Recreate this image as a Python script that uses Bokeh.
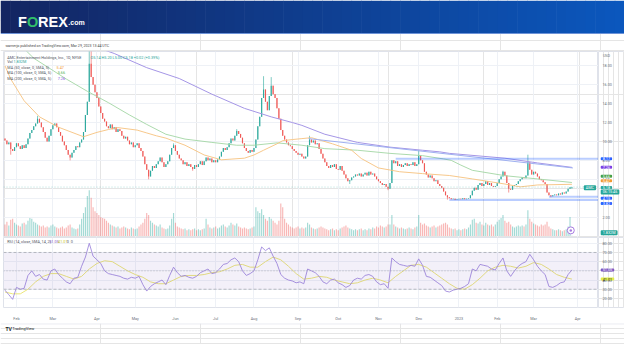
from bokeh.plotting import figure
from bokeh.layouts import column, row
from bokeh.models import (Range1d, FixedTicker, Label, ColumnDataSource, Span,
                          BoxAnnotation, PrintfTickFormatter, Grid)
from bokeh.core.properties import value
from bokeh.embed import file_html
from bokeh.resources import INLINE

# ---------------- data ----------------
# daily closes, Jan 24 2022 (bar 0) .. Mar 29 2023 (bar 296)
closes = [
    10.1, 9.7, 9.9, 9.2, 9.0, 9.4, 9.8, 9.5, 9.2, 9.6,
    9.3, 9.7, 10.3, 10.9, 11.2, 11.6, 11.9, 12.4, 12.0, 11.5,
    11.0, 10.4, 10.0, 10.6, 11.3, 11.7, 11.9, 11.5, 11.0, 10.6,
    10.0, 9.6, 9.1, 8.6, 8.3, 8.8, 9.1, 9.5, 9.4, 9.9,
    10.2, 11.0, 12.8, 14.2, 18.2, 16.8, 16.0, 15.2, 14.6, 13.7,
    13.0, 12.4, 12.1, 11.6, 11.4, 11.8, 11.3, 11.5, 11.0, 11.3,
    11.1, 10.6, 10.3, 10.5, 10.1, 9.7, 9.9, 9.4, 9.6, 9.8,
    9.3, 9.0, 8.4, 7.6, 7.0, 6.3, 6.9, 7.4, 7.2, 7.6,
    7.9, 8.3, 7.8, 7.3, 7.6, 7.9, 8.6, 9.3, 9.6, 9.0,
    8.6, 8.2, 8.0, 7.6, 7.8, 7.4, 7.6, 7.3, 7.1, 7.5,
    7.3, 7.6, 7.9, 7.5, 7.9, 8.3, 8.0, 8.2, 7.8, 8.0,
    7.8, 8.1, 8.4, 8.9, 9.3, 9.1, 9.4, 9.8, 10.3, 10.1,
    10.6, 11.1, 10.8, 10.4, 9.8, 9.3, 9.0, 8.8, 9.1, 8.9,
    9.3, 10.2, 11.6, 12.6, 14.6, 15.5, 14.2, 13.3, 14.8, 15.9,
    15.0, 14.6, 13.5, 12.4, 11.2, 10.6, 10.2, 9.9, 9.6, 9.5,
    9.2, 9.0, 8.8, 8.6, 8.7, 8.4, 8.2, 8.4, 9.6, 10.2,
    9.9, 10.1, 9.7, 9.8, 9.2, 8.7, 8.2, 7.8, 7.4, 7.2,
    7.5, 7.3, 7.6, 7.1, 7.0, 7.4, 6.9, 6.5, 6.1, 5.8,
    5.9, 6.2, 6.3, 6.5, 6.4, 6.6, 6.3, 6.5, 6.7, 6.4,
    6.8, 6.5, 6.6, 6.3, 6.0, 5.8, 5.6, 5.4, 5.5, 5.2,
    5.0, 5.6, 8.0, 7.7, 7.9, 7.4, 7.6, 7.3, 7.5, 7.7,
    7.4, 7.6, 7.5, 7.8, 7.4, 7.6, 8.5, 8.0, 7.7, 6.8,
    6.5, 6.2, 6.4, 6.1, 5.8, 5.9, 5.5, 5.3, 5.1, 4.7,
    4.3, 4.1, 4.0, 3.9, 3.95, 3.85, 3.9, 3.95, 3.9, 4.0,
    3.9, 3.95, 4.0, 4.3, 4.8, 5.1, 4.9, 5.4, 5.6, 5.3,
    5.5, 5.8, 5.4, 5.6, 5.3, 5.2, 5.3, 5.6, 6.0, 6.3,
    6.8, 6.4, 5.6, 5.0, 4.9, 5.3, 5.4, 5.5, 5.8, 6.0,
    6.2, 6.1, 6.4, 7.8, 7.0, 6.5, 6.8, 6.6, 6.3, 6.0,
    5.9, 5.7, 5.5, 4.6, 4.3, 4.2, 4.3, 4.4, 4.3, 4.5,
    4.4, 4.6, 4.5, 4.7, 5.0, 5.16, 5.18,
]
first_open = 10.3
last_open = 5.14
wick_highs = {17: 12.7, 44: 19.9, 45: 20.6, 88: 9.8, 121: 11.3, 135: 16.9, 139: 16.8,
              159: 10.6, 216: 9.1, 260: 6.9, 273: 8.6, 296: 5.20}
wick_lows = {3: 8.6, 34: 8.0, 75: 6.0, 98: 6.9, 180: 5.5, 200: 4.85, 231: 3.85,
             235: 3.8, 263: 4.6, 285: 4.1, 296: 5.00}

# volume (millions)
volumes = [
    60, 75, 55, 85, 90, 70, 60, 55, 50, 65, 70,
    60, 80, 95, 90, 75,
    70, 60, 55, 50, 55, 45, 50,
    45, 55, 60, 50, 45, 40, 45, 50, 40, 45, 55, 60, 45, 40, 35, 40,
    60, 90, 120, 150,
    210, 240, 200, 150,
    130, 120, 110, 100, 95, 90, 80, 70,
    60, 55, 50, 45, 50, 40, 45, 50, 45, 40, 35, 45, 40, 35, 40, 50, 60, 70,
    90, 120, 110, 80,
    70, 60, 55, 50, 60, 45, 40, 35, 40,
    55, 90, 120,
    70, 50, 45, 40, 35, 40, 30, 35, 30, 35, 40, 30, 35, 30, 35, 40,
    90,
    60, 45, 40, 45, 50, 40, 45, 55, 60, 50, 45, 55, 70, 60, 55, 65, 50, 45, 40, 45, 40, 35, 40, 45, 50,
    150, 130, 120, 140, 110, 90,
    80, 100, 90, 80, 70, 60, 80,
    170, 150,
    90, 70, 60, 50, 45, 40, 45, 50, 40, 45,
    40, 45, 70, 60, 45, 40, 35, 40, 45, 50,
    45, 40, 35, 30, 35, 40, 30, 35, 30, 40,
    45, 50, 55, 45, 40, 35, 30, 35, 30, 35,
    40, 30, 35, 30, 40, 35, 45, 40, 50, 45,
    55, 50, 45, 50, 60,
    60, 110,
    60, 50, 45, 40, 45, 40, 35, 40, 45, 40, 35, 45, 50,
    110,
    70, 60, 65, 55, 50, 45, 50, 55, 45, 50, 55, 60, 65, 70,
    60,
    45, 40, 35, 40, 30, 35, 30, 35, 40, 35, 45,
    60, 85, 90, 70, 65, 75, 60, 55, 70, 60,
    55, 60, 50, 60, 75, 85, 95, 110, 80, 70,
    75, 60, 50, 45, 50, 55, 50, 55, 50, 60,
    135, 90,
    75, 65, 60, 55, 50, 60, 55, 60,
    75,
    50, 40, 35, 30, 30, 35, 30, 25, 30, 35, 50,
    100,
    1.83,
]

# moving averages (bar index, value)
sma50_i = [0, 3, 10, 18, 28, 41, 48, 54, 59, 69, 74, 79, 84, 94, 104, 113, 125, 130, 135,
           142, 145, 150, 155, 160, 171, 181, 186, 195, 206, 218, 232, 244, 261, 269, 278, 296]
sma50_v = [18.0, 16.6, 14.3, 12.6, 11.5, 10.5, 10.96, 11.26, 11.46, 11.2, 10.9, 10.6, 10.35,
           9.6, 8.57, 8.06, 8.23, 8.57, 9.07, 9.75, 10.08, 10.2, 10.3, 10.4, 9.75, 9.07, 8.2,
           7.2, 6.8, 6.6, 6.4, 6.04, 5.5, 5.2, 5.4, 5.47]
sma100_i = [0, 8, 15, 32, 43, 54, 65, 74, 84, 94, 108, 121, 130, 142, 155, 167, 184, 201,
            218, 229, 233, 238, 244, 261, 278, 296]
sma100_v = [21.5, 20.2, 18.8, 16.6, 15.3, 14.1, 12.8, 11.8, 10.76, 10.25, 9.9, 9.6, 9.6,
            9.85, 9.6, 9.24, 9.07, 8.74, 8.5, 8.15, 8.0, 7.5, 6.95, 6.38, 6.04, 5.66]
sma200_i = [20, 40, 57, 74, 91, 108, 125, 139, 150, 155, 167, 184, 201, 218, 227, 232, 261, 278, 296]
sma200_v = [22.0, 20.5, 19.3, 17.8, 16.65, 15.0, 13.5, 12.6, 12.0, 11.7, 10.76, 9.9, 9.4,
            9.07, 8.9, 8.74, 8.23, 7.73, 7.26]

# drawn lines
level_prices = [8.17, 3.82, 4.15]
level_start = [204, 232, 284]
trend_i = [158.5, 296.5]
trend_v = [10.3, 7.2]
last_price = 5.18
event_idx = [295.4]

# RSI (every 2nd bar) and its SMA (every 4th bar)
rsi_i = list(range(0, 297, 2))
rsi_v = [
    29, 24, 19, 32, 30, 31, 45, 50, 44, 46,
    41, 40, 50, 52, 46, 42, 38, 36, 42, 43,
    55, 65, 80, 66, 62, 58, 50, 47, 46, 45,
    44, 42, 41, 43, 42, 44, 35, 28, 33, 36,
    38, 40, 35, 45, 54, 48, 44, 45, 43, 42,
    44, 48, 50, 52, 47, 48, 52, 57, 58, 62,
    64, 60, 50, 45, 47, 50, 62, 76, 72, 75,
    66, 58, 46, 42, 40, 39, 37, 38, 36, 52,
    50, 48, 44, 38, 36, 40, 41, 37, 35, 32,
    34, 40, 42, 41, 45, 46, 44, 38, 35, 36,
    31, 64, 60, 57, 56, 55, 56, 55, 63, 56,
    44, 43, 40, 37, 34, 28, 27, 29, 30, 31,
    33, 36, 52, 50, 57, 56, 55, 52, 51, 58,
    64, 50, 44, 50, 55, 58, 60, 68, 62, 55,
    50, 46, 33, 32, 34, 37, 38, 46, 51.05,
]
rsima_i = list(range(0, 297, 4))
rsima_v = [
    27, 25, 25, 30, 38, 44, 47, 47, 44, 41,
    44, 52, 58, 61, 60, 55, 50, 46, 43, 38,
    36, 36, 40, 44, 45, 45, 46, 48, 49, 52,
    56, 57, 54, 54, 60, 65, 62, 55, 47, 41,
    42, 44, 43, 40, 38, 36, 37, 40, 42, 40,
    37, 44, 50, 56, 57, 54, 48, 42, 36, 31,
    30, 35, 42, 50, 54, 56, 55, 53, 55, 59,
    57, 52, 46, 43, 41.01,
]

month_idx = [6, 25, 48, 68, 89, 110, 130, 153, 174, 195, 216, 237, 257, 276, 299]
month_lbl = ["Feb", "Mar", "Apr", "May", "Jun", "Jul", "Aug", "Sep", "Oct", "Nov", "Dec",
             "2023", "Feb", "Mar", "Apr"]
price_ticks = [2, 4, 6, 8, 10, 12, 14, 16, 18]
rsi_ticks = [20, 30, 40, 50, 60, 70, 80]

# price-axis tags: (text, label position, background, text colour)
price_tags = [("8.17", 8.17, "#2962ff", "white"), ("7.26", 7.26, "#7b3fe4", "white"),
              ("5.66", 6.31, "#43a047", "white"), ("5.47", 5.84, "#f29b30", "white"),
              ("5.18", 5.12, "#26a69a", "white"), ("06:15:46", 4.66, "#26a69a", "white"),
              ("4.15", 4.00, "#2962ff", "white"), ("3.82", 3.45, "#2962ff", "white"),
              ("1.832M", 0.35, "#26a69a", "white")]
rsi_tags = [("51.05", 51.05, "#7e57c2", "white"), ("41.01", 41.01, "#e3ed4a", "#131722")]

# ---------------- styling ----------------
W = 624
AXW = 26
FONT = "Roboto"
FS = "3.8px"
UP, DN = "#26a69a", "#ef5350"
GRID = "#eef1f6"
BORDER = "#dfe2ea"
TXT = "#50535e"
AX = "#6b6f7a"
X0, X1 = -0.775, 309.87
PRICE_Y = (-0.153, 19.508)
RSI_Y = (10.14, 86.27)

n = len(closes)
idx = list(range(n))
opens = [first_open] + closes[:-1]
opens[-1] = last_open
highs = [max(o, c) for o, c in zip(opens, closes)]
lows = [min(o, c) for o, c in zip(opens, closes)]
for k, v in wick_highs.items():
    highs[k] = v
for k, v in wick_lows.items():
    lows[k] = v
cols = [UP if c >= o else DN for o, c in zip(opens, closes)]
src = ColumnDataSource(dict(x=idx, top=[max(o, c) for o, c in zip(opens, closes)],
                            bot=[min(o, c) for o, c in zip(opens, closes)],
                            h=highs, l=lows, col=cols, vol=volumes))


def lab(fig, x, y, text, color, size=FS, bg=None, align="left", style="normal"):
    kw = dict(x=x, y=y, text=text, text_color=color, text_font_size=size, text_font=FONT,
              text_align=align, text_baseline="middle", text_font_style=style)
    if bg is not None:
        kw["background_fill_color"] = bg
        kw["padding"] = dict(left=2, right=2, top=0, bottom=0)
        kw["border_radius"] = 1
    fig.add_layout(Label(**kw))


def blank(width, height, xr, yr, **kw):
    f = figure(width=width, height=height, x_range=xr, y_range=yr, output_backend="svg",
               toolbar_location=None, x_axis_location=None, y_axis_location=None,
               min_border=0, outline_line_color=None, **kw)
    return f


# ---------------- header ----------------
hdr = blank(W, 51, Range1d(0, W), Range1d(51, 0))
NG = 64
c0, c1 = (0x13, 0x25, 0x62), (0x0b, 0x57, 0xbd)
gcols = ['#%02x%02x%02x' % tuple(int(round(a + (b - a) * k / (NG - 1))) for a, b in zip(c0, c1))
         for k in range(NG)]
hdr.quad(left=[W * k / NG for k in range(NG)], right=[W * (k + 1) / NG + 0.6 for k in range(NG)],
         top=0, bottom=32.5, fill_color=gcols, line_color=None)
hdr.quad(left=0, right=W, top=32.5, bottom=33.6, fill_color="#6d93d8", line_color=None)
logo = [("F", 17.5, "white", "14.5px"), ("O", 26.4, "#2fbf6a", "14.5px"),
        ("REX", 37.6, "white", "14.5px"), (".com", 67.8, "white", "7px")]
for t, xx, cc, fs in logo:
    hdr.text(x=[xx], y=[21.5], text=[t], text_color=cc, text_font=value("Liberation Sans"),
             text_font_style="bold", text_font_size=fs, text_baseline="alphabetic")
hdr.text(x=[4.9], y=[45.2], text=["warnerjo published on TradingView.com, Mar 29, 2023 13:44 UTC"],
         text_color="#444", text_font=value(FONT), text_font_size="3.6px", text_baseline="middle")

# ---------------- main price pane ----------------
p = figure(width=W - AXW, height=186, x_range=Range1d(X0, X1), y_range=Range1d(*PRICE_Y),
           x_axis_location=None, y_axis_location=None, output_backend="svg",
           toolbar_location=None, min_border_left=3, min_border_right=0,
           min_border_top=0, min_border_bottom=0)
p.outline_line_color = BORDER
p.extra_y_ranges = {"vol": Range1d(-7.6, 965)}
p.add_layout(Grid(dimension=0, ticker=FixedTicker(ticks=month_idx), grid_line_color=GRID))
p.add_layout(Grid(dimension=1, ticker=FixedTicker(ticks=price_ticks), grid_line_color=GRID))

p.vbar(x="x", top="vol", bottom=0, width=0.6, fill_color="col", fill_alpha=0.42,
       line_color=None, y_range_name="vol", source=src)
p.add_layout(Span(location=last_price, dimension="width", line_color=UP, line_alpha=0.45,
                  line_width=0.8, line_dash="1 2"))
p.segment(x0="x", y0="l", x1="x", y1="h", line_color="col", line_width=0.6, source=src)
p.vbar(x="x", top="top", bottom="bot", width=0.6, fill_color="col", fill_alpha=0.9,
       line_color=None, source=src)
p.line(sma200_i, sma200_v, line_color="#a596e6", line_width=1.0)
p.line(sma100_i, sma100_v, line_color="#a3d6a4", line_width=0.9)
p.line(sma50_i, sma50_v, line_color="#f6c27e", line_width=0.9)
p.line(trend_i, trend_v, line_color="#9fb0f0", line_width=1.0)
p.segment(x0=level_start, y0=level_prices, x1=[X1] * len(level_prices), y1=level_prices,
          line_color="#2962ff", line_alpha=0.32, line_width=2)
p.scatter(x=event_idx, y=[0.6], size=7, marker="circle", fill_color="white",
          line_color="#a77be0", line_width=1)
p.scatter(x=event_idx, y=[0.6], size=2.5, marker="circle", fill_color="#a77be0", line_color=None)

# legend
lab(p, 1.2, 18.91, "AMC Entertainment Holdings, Inc., 1D, NYSE", TXT)
lab(p, 44.7, 18.91, "O5.14 H5.20 L5.00 C5.18 +0.02 (+0.39%)", UP)
lab(p, 1.2, 18.40, "Vol", TXT)
lab(p, 4.4, 18.40, "1.832M", UP)
lab(p, 1.2, 17.83, "MA (50, close, 0, SMA, 5)", TXT)
lab(p, 26.9, 17.83, "5.47", "#f29b30")
lab(p, 1.2, 17.30, "MA (100, close, 0, SMA, 5)", TXT)
lab(p, 27.5, 17.30, "5.66", "#4caf50")
lab(p, 1.2, 16.69, "MA (200, close, 0, SMA, 5)", TXT)
lab(p, 27.5, 16.69, "7.26", "#7b4fe0")
lab(p, 305.4, 5.10, "AMC", "white", bg=UP, align="center")

# price axis strip (shares the price scale)
pax = blank(AXW, 186, Range1d(0, AXW), p.y_range)
pax.outline_line_color = BORDER
pax.text(x=[3.9] * len(price_ticks), y=price_ticks, text=["%.2f" % t for t in price_ticks],
         text_color=AX, text_font=value(FONT), text_font_size=FS, text_baseline="middle")
lab(pax, 4.4, 19.07, "USD", AX)
for t, yy, bg, fg in price_tags:
    lab(pax, 2.2, yy, t, fg, bg=bg)

# ---------------- RSI pane ----------------
r = figure(width=W - AXW, height=86, x_range=p.x_range, y_range=Range1d(*RSI_Y),
           y_axis_location=None, output_backend="svg", toolbar_location=None,
           min_border_left=3, min_border_right=0, min_border_top=0, min_border_bottom=10)
r.outline_line_color = BORDER
xa = r.xaxis[0]
xa.ticker = FixedTicker(ticks=month_idx)
xa.major_label_overrides = {i: s for i, s in zip(month_idx, month_lbl)}
xa.major_label_text_font_size = FS
xa.major_label_text_font = FONT
xa.major_label_text_color = AX
xa.major_tick_line_color = None
xa.minor_tick_line_color = None
xa.axis_line_color = None
xa.major_label_standoff = 2
r.xgrid.grid_line_color = GRID
r.add_layout(Grid(dimension=1, ticker=FixedTicker(ticks=rsi_ticks), grid_line_color=GRID))

r.add_layout(BoxAnnotation(bottom=30, top=70, fill_color="#7e57c2", fill_alpha=0.09, line_color=None))
for lv, dash in ((70, "3 2"), (30, "3 2"), (50, "1 2")):
    r.add_layout(Span(location=lv, dimension="width", line_color="#9598a1", line_alpha=0.8,
                      line_width=0.8, line_dash=dash))
r.line(rsima_i, rsima_v, line_color="#ebe67a", line_width=1.0)
r.line(rsi_i, rsi_v, line_color="#a08ade", line_width=0.9)

lab(r, 1.2, 81.5, "RSI (14, close, SMA, 14, 2)", TXT)
lab(r, 23.1, 81.5, "51.05", "#7e57c2")
lab(r, 27.7, 81.5, "41.01", "#c9c62a")
lab(r, 32.3, 81.5, "0", TXT)
lab(r, 34.3, 81.5, "0", TXT)

rax = figure(width=AXW, height=86, x_range=Range1d(0, AXW), y_range=r.y_range,
             output_backend="svg", toolbar_location=None, x_axis_location=None,
             y_axis_location=None, min_border_left=0, min_border_right=0, min_border_top=0,
             min_border_bottom=10, outline_line_color=BORDER)
rax.text(x=[3.9] * len(rsi_ticks), y=rsi_ticks, text=["%.2f" % t for t in rsi_ticks],
         text_color=AX, text_font=value(FONT), text_font_size=FS, text_baseline="middle")
for t, yy, bg, fg in rsi_tags:
    lab(rax, 2.2, yy, t, fg, bg=bg)

# ---------------- footer ----------------
ftr = blank(W, 21, Range1d(0, W), Range1d(21, 0))
ftr.segment(x0=[0], y0=[0.3], x1=[W], y1=[0.3], line_color=BORDER, line_width=1)
ftr.text(x=[4.9], y=[5.2], text=["TV"], text_color="#131722", text_font=value("Liberation Sans"),
         text_font_style="bold", text_font_size="5px", text_baseline="middle")
ftr.text(x=[11.8], y=[5.2], text=["TradingView"], text_color="#131722", text_font=value(FONT),
         text_font_size="4px", text_baseline="middle")

layout = column(hdr, row(p, pax), row(r, rax), ftr)
open("out.html", "w").write(file_html(layout, INLINE))
